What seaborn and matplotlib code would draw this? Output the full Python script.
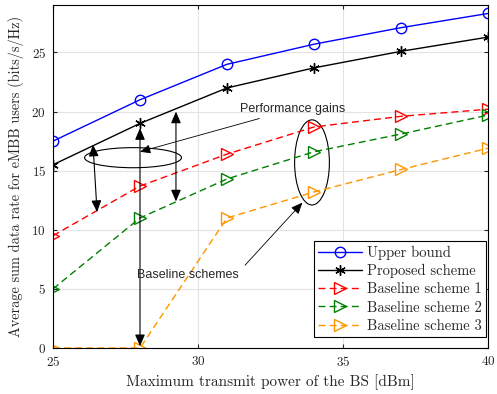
import numpy as np
import pandas as pd
import matplotlib
matplotlib.use("Agg")
import matplotlib.pyplot as plt
import seaborn as sns
from matplotlib.patches import Ellipse

# dati
potenza = [25, 28, 31, 34, 37, 40]
upper_bound = [17.5, 21.0, 24.0, 25.7, 27.1, 28.3]
proposto = [15.5, 19.0, 22.0, 23.7, 25.1, 26.3]
baseline1 = [9.5, 13.7, 16.4, 18.7, 19.6, 20.2]
baseline2 = [5.0, 11.0, 14.3, 16.6, 18.1, 19.7]
baseline3 = [0.0, 0.0, 11.0, 13.2, 15.1, 16.9]

nomi = ["Upper bound", "Proposed scheme", "Baseline scheme 1", "Baseline scheme 2", "Baseline scheme 3"]
serie = [upper_bound, proposto, baseline1, baseline2, baseline3]
colori = ["#0000FF", "#000000", "#FF0000", "#008000", "#FF9500"]
marker = ["o", (6, 2, 0), ">", ">", ">"]
tratteggio = [None, None, (5, 3), (5, 3), (5, 3)]
dimensioni = [7.5, 7.5, 8.5, 8.5, 8.5]

sns.set_style("ticks")
plt.rcParams["font.family"] = ["cmr10", "DejaVu Serif"]
plt.rcParams["axes.formatter.use_mathtext"] = True

fig = plt.figure(figsize=(4.97, 3.94), dpi=100)
ax = fig.add_axes([0.1066, 0.1168, 0.8754, 0.870])

for nome, y, c, m, d, ms in zip(nomi, serie, colori, marker, tratteggio, dimensioni):
    df = pd.DataFrame({"x": potenza, "y": y})
    sns.lineplot(data=df, x="x", y="y", ax=ax, color=c, marker=m,
                 markersize=ms, markerfacecolor="none", markeredgecolor=c,
                 markeredgewidth=1.0, linewidth=1.0, label=nome)
    if d is not None:
        ax.lines[-1].set_dashes(d)

ax.set_xlim(25, 40)
ax.set_ylim(0, 29)
ax.set_xticks([25, 30, 35, 40])
ax.set_yticks([0, 5, 10, 15, 20, 25])
ax.grid(True, color="#e3e3e3", linewidth=0.8)
ax.set_axisbelow(True)
ax.tick_params(direction="in", length=3, labelsize=9.5, top=True, right=True, pad=5)
for s in ax.spines.values():
    s.set_linewidth(0.8)
    s.set_color("black")
ax.set_xlabel("Maximum transmit power of the BS [dBm]", fontsize=11, labelpad=4)
ax.set_ylabel("Average sum data rate for eMBB users (bits/s/Hz)", fontsize=10.3, labelpad=5)

leg = ax.legend(loc="lower right", bbox_to_anchor=(0.996, 0.032), fontsize=10.5,
                frameon=True, fancybox=False, edgecolor="black", framealpha=1,
                handlelength=3.0, borderpad=0.3, labelspacing=0.3, handletextpad=0.35,
                borderaxespad=0)
leg.get_frame().set_linewidth(0.8)
for h, d in zip(leg.get_lines(), tratteggio):
    if d is not None:
        h.set_dashes(d)

# annotazioni
sans = ["Liberation Sans", "DejaVu Sans"]
ax.add_patch(Ellipse((27.76, 16.1), 3.34, 1.7, fill=False, edgecolor="black", linewidth=0.8))
ax.add_patch(Ellipse((33.93, 15.7), 1.2, 7.2, fill=False, edgecolor="black", linewidth=0.8))

freccia = dict(arrowstyle="<|-|>,head_length=0.7,head_width=0.3", color="black", linewidth=0.8, shrinkA=0, shrinkB=0)
ax.annotate("", xy=(26.38, 17.2), xytext=(26.52, 11.5), arrowprops=freccia)
ax.annotate("", xy=(28.0, 18.6), xytext=(28.0, 0.15), arrowprops=freccia)
ax.annotate("", xy=(29.24, 20.0), xytext=(29.24, 12.4), arrowprops=freccia)

freccia1 = dict(arrowstyle="-|>,head_length=0.7,head_width=0.3", color="black", linewidth=0.6, shrinkA=0, shrinkB=0)
ax.annotate("Performance gains", xy=(28.0, 16.6), xytext=(31.45, 20.2), fontsize=9,
            family=sans, va="center", ha="left", arrowprops=freccia1)
ax.annotate("", xy=(33.6, 12.3), xytext=(31.62, 7.0), arrowprops=freccia1)
ax.text(27.9, 6.2, "Baseline schemes", fontsize=9, family=sans, va="center", ha="left")

fig.savefig("out.png", dpi=100)
